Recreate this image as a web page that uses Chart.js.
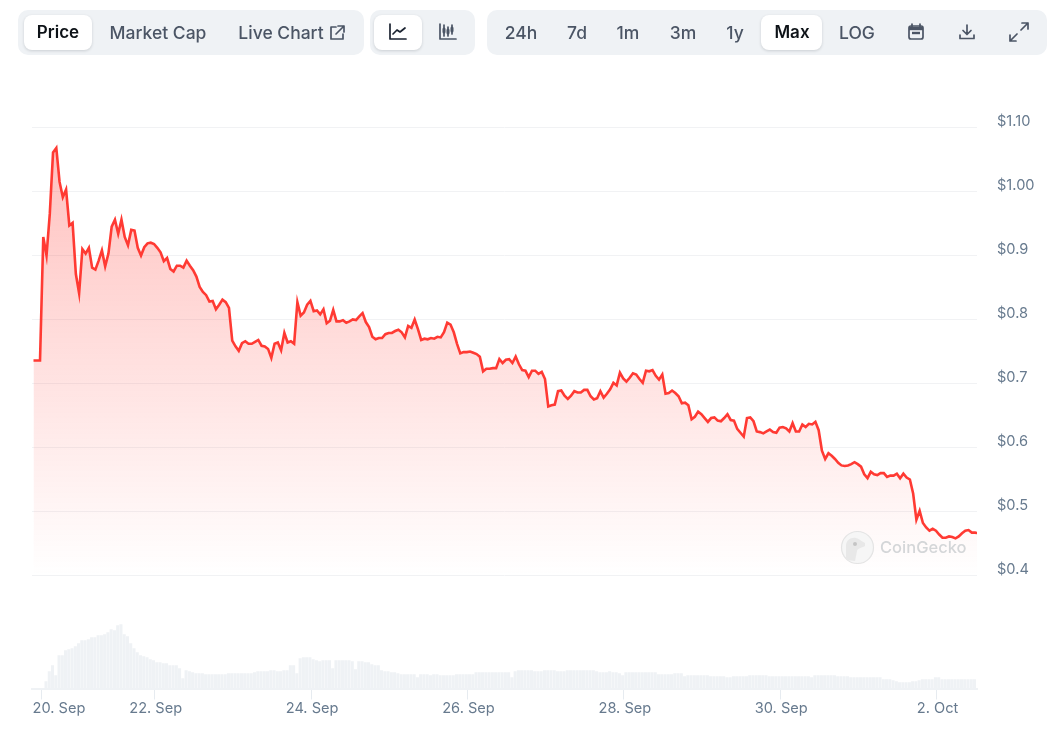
<!DOCTYPE html>
<html>
<head>
<meta charset="utf-8">
<title>Price chart</title>
<script src="https://cdn.jsdelivr.net/npm/chart.js@4"></script>
<style>
  html, body { margin: 0; padding: 0; background: #fff; }
  body { width: 1062px; height: 732px; position: relative; overflow: hidden; font-family: Inter, sans-serif; }
  canvas { position: absolute; left: 0; top: 0; }
  .group { position: absolute; top: 10px; height: 45px; background: #eff2f5; border-radius: 10px; }
  .active { position: absolute; top: 15px; height: 35px; background: #fff; border-radius: 8px; box-shadow: 0 1px 3px rgba(16,24,40,.16); }
  .lbl { position: absolute; top: 32px; transform: translate(-50%, -50%); font-size: 17.5px; font-weight: 500; color: #4b5565; white-space: nowrap; }
  .lbl.on { font-size: 17px; font-weight: 600; color: #0d1217; }
  svg.ico { position: absolute; fill: none; stroke: #4b5565; stroke-width: 1.7; stroke-linecap: round; stroke-linejoin: round; }
  .mark { position: absolute; left: 880px; top: 537px; font-size: 16.5px; font-weight: 500; color: #d4d6d8; }
</style>
</head>
<body>
<canvas id="priceChart" width="1062" height="732"></canvas>

<div class="group" style="left:18px;width:346px"></div>
<div class="group" style="left:370px;width:105px"></div>
<div class="group" style="left:487px;width:560px"></div>
<div class="active" style="left:24px;width:68px"></div>
<div class="active" style="left:374px;width:48px"></div>
<div class="active" style="left:761px;width:61px"></div>

<span class="lbl on" style="left:58px">Price</span>
<span class="lbl" style="left:158px">Market Cap</span>
<span class="lbl" style="left:281px">Live Chart</span>
<span class="lbl" style="left:521px">24h</span>
<span class="lbl" style="left:577px">7d</span>
<span class="lbl" style="left:628px">1m</span>
<span class="lbl" style="left:683px">3m</span>
<span class="lbl" style="left:735px">1y</span>
<span class="lbl on" style="left:792px">Max</span>
<span class="lbl" style="left:857px">LOG</span>

<svg class="ico" style="left:328px;top:24px" width="18" height="18" viewBox="0 0 18 18"><path d="M8 3H3v12h12v-5M10 2h6v6M16 2L8 10"/></svg>
<svg class="ico" style="left:388px;top:22px;stroke:#1a2230" width="20" height="20" viewBox="0 0 20 20"><path d="M2 2v15h16M5 12l4-4 3 2 5-4"/></svg>
<svg class="ico" style="left:438px;top:22px" width="20" height="20" viewBox="0 0 20 20"><path d="M2 2v15h16M6 3v11M10 5v9M14 3v9"/><path stroke-width="3" d="M6 7v3M10 8v3M14 6v3"/></svg>
<svg class="ico" style="left:907px;top:23px" width="18" height="18" viewBox="0 0 18 18"><path d="M5 1v3M13 1v3"/><rect x="2" y="3" width="14" height="13" rx="2"/><path stroke-width="3.4" stroke-linecap="butt" d="M2 5.5h14"/><path stroke-width="2.4" stroke-linecap="butt" d="M5 10h8"/></svg>
<svg class="ico" style="left:958px;top:23px" width="18" height="18" viewBox="0 0 18 18"><path d="M9 2v9M5 7.5l4 4 4-4M2 12v3.5h14V12"/></svg>
<svg class="ico" style="left:1009px;top:22px" width="20" height="20" viewBox="0 0 20 20"><path d="M12 8l7-7M13 1h6v6M8 12l-7 7M1 13v6h6"/></svg>

<svg style="position:absolute;left:840px;top:530px" width="35" height="35" viewBox="0 0 35 35"><circle cx="17.5" cy="17.5" r="16" fill="#f6f6f6" stroke="#e4e4e4" stroke-width="1.2"/><path d="M6 30V16c0-6 5-9 10-8 3 .5 5 3 9 5v3c-4 2-7 2-8 5l-2 10z" fill="#e8e8e8"/><circle cx="15" cy="14" r="2" fill="#c4c4c4"/></svg>
<span class="mark">CoinGecko</span>

<script>
// x axis is in hours after 20 Sep 00:00
const xTickHours = [13.4, 18.3, 48, 96, 144, 192, 240, 288];
const xTickLabels = ['', '20. Sep', '22. Sep', '24. Sep', '26. Sep', '28. Sep', '30. Sep', '2. Oct'];
const priceTicks = [1.1, 1.0, 0.9, 0.8, 0.7, 0.6, 0.5, 0.4];
const priceTickLabels = ['$1.10', '$1.00', '$0.9', '$0.8', '$0.7', '$0.6', '$0.5', '$0.4'];

// hourly price
const priceStartHour = 10.8;
const priceValues = [
  0.736,0.736,0.736,0.929,0.900,0.965,1.061,1.068,1.015,0.991,
  1.003,0.947,0.951,0.871,0.841,0.910,0.903,0.912,0.881,0.878,
  0.892,0.908,0.883,0.903,0.945,0.956,0.934,0.956,0.929,0.916,
  0.940,0.939,0.912,0.900,0.913,0.919,0.920,0.918,0.912,0.905,
  0.891,0.896,0.879,0.875,0.884,0.884,0.881,0.892,0.884,0.877,
  0.867,0.851,0.843,0.838,0.828,0.829,0.816,0.823,0.831,0.827,
  0.818,0.767,0.758,0.751,0.763,0.766,0.762,0.762,0.765,0.768,
  0.759,0.758,0.754,0.740,0.762,0.764,0.752,0.779,0.764,0.766,
  0.762,0.827,0.806,0.811,0.823,0.829,0.813,0.814,0.808,0.816,
  0.794,0.798,0.815,0.797,0.797,0.799,0.795,0.797,0.800,0.799,
  0.805,0.810,0.796,0.788,0.773,0.769,0.771,0.771,0.777,0.779,
  0.779,0.782,0.784,0.780,0.772,0.790,0.787,0.800,0.785,0.768,
  0.770,0.769,0.771,0.770,0.773,0.772,0.780,0.795,0.792,0.780,
  0.762,0.747,0.749,0.749,0.750,0.748,0.746,0.742,0.719,0.723,
  0.723,0.724,0.724,0.738,0.732,0.737,0.738,0.732,0.742,0.730,
  0.721,0.720,0.710,0.720,0.720,0.715,0.718,0.707,0.664,0.666,
  0.667,0.688,0.689,0.681,0.676,0.681,0.688,0.686,0.686,0.690,
  0.690,0.680,0.675,0.677,0.688,0.678,0.684,0.691,0.701,0.697,
  0.717,0.708,0.703,0.709,0.716,0.714,0.707,0.701,0.720,0.719,
  0.721,0.712,0.706,0.714,0.684,0.685,0.689,0.685,0.680,0.669,
  0.670,0.666,0.644,0.648,0.656,0.652,0.646,0.640,0.646,0.647,
  0.642,0.641,0.646,0.652,0.643,0.642,0.629,0.623,0.617,0.646,
  0.647,0.641,0.625,0.624,0.622,0.625,0.628,0.624,0.623,0.631,
  0.632,0.630,0.625,0.638,0.625,0.625,0.636,0.632,0.637,0.636,
  0.640,0.627,0.595,0.582,0.591,0.587,0.582,0.576,0.572,0.571,
  0.572,0.574,0.577,0.574,0.570,0.558,0.552,0.562,0.558,0.557,
  0.560,0.560,0.554,0.556,0.556,0.559,0.552,0.559,0.553,0.550,
  0.528,0.487,0.501,0.482,0.475,0.470,0.473,0.470,0.464,0.459,
  0.459,0.461,0.460,0.458,0.461,0.466,0.470,0.471,0.467,0.467,
  0.466
];

// hourly volume, in 0.1M
const volumeStartHour = 14.64;
const volumeValues = [
  7,17,23,13,33,33,38,39,40,42,
  45,48,48,49,51,51,53,53,54,56,
  59,58,63,64,54,52,45,40,36,33,
  32,31,29,28,26,26,25,25,23,23,
  23,20,10,18,17,16,15,15,15,14,
  14,14,14,14,14,14,15,15,15,15,
  15,15,15,15,16,17,17,17,17,18,
  18,17,17,18,18,23,23,15,30,31,
  31,31,29,28,27,28,28,28,20,28,
  28,28,28,28,27,19,27,27,26,26,
  24,23,23,18,17,17,16,16,15,14,
  14,14,14,14,11,14,14,14,13,14,
  14,13,13,13,13,13,14,14,14,14,
  14,14,16,16,16,16,16,16,16,16,
  16,16,16,11,17,18,18,18,18,18,
  17,17,17,18,18,18,18,17,17,17,
  18,18,18,18,18,18,18,18,18,17,
  16,16,16,17,16,16,15,13,16,16,
  16,16,16,16,16,16,16,16,14,14,
  14,14,14,15,15,15,12,13,13,13,
  13,13,13,13,12,12,12,12,12,11,
  11,12,12,12,12,12,13,13,13,13,
  13,13,12,12,12,12,12,12,12,12,
  12,12,12,12,12,11,13,13,13,13,
  13,13,13,12,12,12,12,11,11,11,
  11,11,11,11,11,11,11,9,9,9,
  8,7,6,6,6,6,7,7,8,9,
  9,9,9,11,11,9,9,9,9,9,
  9,9,9,9,9,9
];

const hourMin = 10.34, hourMax = 300.4;
const priceMin = 0.2234, priceMax = 1.1;
const volumeAxisMax = 561;

const pricePoints = priceValues.map((y, i) => ({ x: priceStartHour + i, y }));
const volumePoints = volumeValues.map((y, i) => ({ x: volumeStartHour + i, y }));

function areaGradient(context) {
  const chart = context.chart;
  if (!chart.chartArea) return 'transparent';
  const y = chart.scales.y;
  const g = chart.ctx.createLinearGradient(0, y.getPixelForValue(1.1), 0, y.getPixelForValue(0.4));
  g.addColorStop(0, 'rgba(255,58,51,0.33)');
  g.addColorStop(1, 'rgba(255,58,51,0)');
  return g;
}

new Chart(document.getElementById('priceChart').getContext('2d'), {
  type: 'line',
  data: {
    datasets: [
      {
        type: 'line',
        data: pricePoints,
        yAxisID: 'y',
        borderColor: '#ff3a33',
        borderWidth: 2.6,
        backgroundColor: areaGradient,
        fill: { value: 0.4 },
        pointRadius: 0,
        tension: 0,
        order: 1
      },
      {
        type: 'bar',
        data: volumePoints,
        yAxisID: 'volume',
        backgroundColor: '#eff2f5',
        barThickness: 2.4,
        order: 2
      }
    ]
  },
  options: {
    responsive: false,
    animation: false,
    layout: { padding: { left: 32, top: 127.5, right: 0, bottom: 0 } },
    plugins: { legend: { display: false }, tooltip: { enabled: false } },
    scales: {
      x: {
        type: 'linear',
        min: hourMin,
        max: hourMax,
        offset: false,
        afterBuildTicks(scale) { scale.ticks = xTickHours.map(value => ({ value })); },
        afterFit(scale) { scale.height = 43.5; },
        border: { color: '#eff2f5', width: 2 },
        grid: {
          offset: false,
          drawOnChartArea: false,
          tickLength: 11,
          tickWidth: 1,
          tickColor: ctx => (ctx.index === 1 ? 'transparent' : '#e6ebf0')
        },
        ticks: {
          autoSkip: false,
          maxRotation: 0,
          padding: 0,
          labelOffset: 1,
          color: '#677a8e',
          font: { family: 'Inter', size: 14.6 },
          callback: (value, index) => xTickLabels[index]
        }
      },
      y: {
        position: 'right',
        min: priceMin,
        max: priceMax,
        afterBuildTicks(scale) { scale.ticks = priceTicks.map(value => ({ value })); },
        afterFit(scale) { scale.width = 85; },
        border: { display: false },
        grid: { color: '#f1f2f4', lineWidth: 1, drawTicks: false },
        ticks: {
          padding: 20,
          labelOffset: -6,
          color: '#677a8e',
          font: { family: 'Inter', size: 14.6 },
          callback: (value, index) => priceTickLabels[index]
        }
      },
      volume: {
        display: false,
        position: 'left',
        min: 0,
        max: volumeAxisMax
      }
    }
  }
});
</script>
</body>
</html>
